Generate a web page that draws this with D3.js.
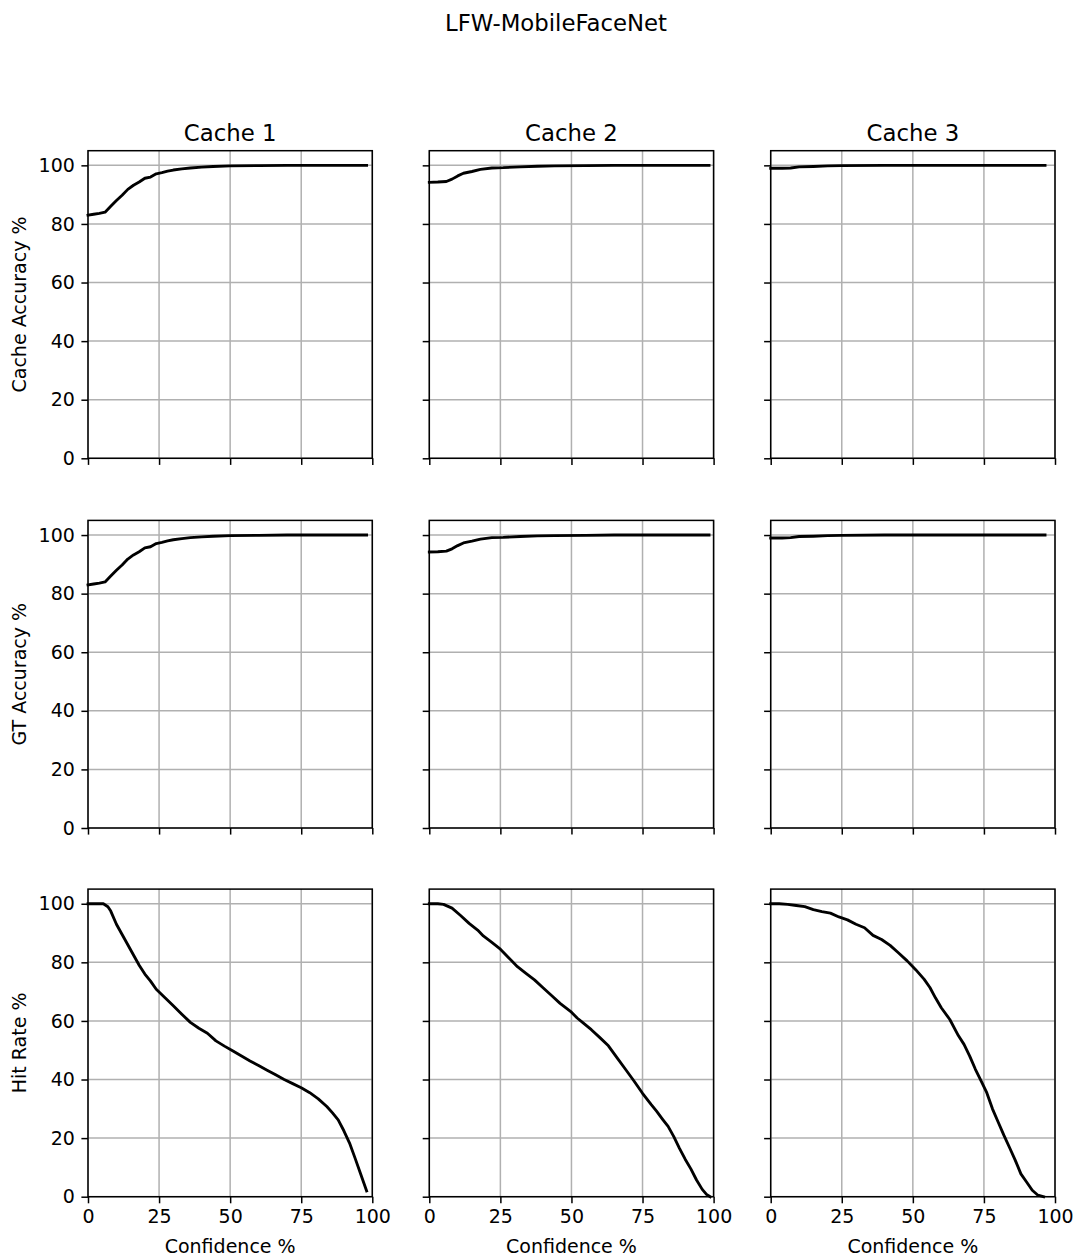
<!DOCTYPE html>
<html>
<head>
<meta charset="utf-8">
<script src="https://cdn.jsdelivr.net/npm/d3@7"></script>
<style>
  html, body { margin: 0; padding: 0; background: #fff; }
  svg { display: block; font-family: "DejaVu Sans", sans-serif; }
</style>
</head>
<body>
<svg id="fig" width="1075" height="1258"></svg>
<script>
// ---- data ----
const cacheNames = ["Cache 1", "Cache 2", "Cache 3"];
const rowLabels = ["Cache Accuracy %", "GT Accuracy %", "Hit Rate %"];
const xTicks = [0, 25, 50, 75, 100];
const yTicks = [0, 20, 40, 60, 80, 100];

// Cache 1
const accConf1 = [0, 2, 4, 6, 8, 10, 12, 14, 16, 18, 20, 22, 24, 26, 28, 30, 33, 36, 40, 44, 50, 60, 70, 80, 90, 98];
const cacheAcc1 = [83.0, 83.3, 83.6, 84.0, 86.0, 88.0, 89.8, 91.8, 93.2, 94.3, 95.6, 96.0, 97.1, 97.5, 98.0, 98.4, 98.8, 99.1, 99.4, 99.6, 99.8, 99.9, 100, 100, 100, 100];
const gtAcc1 = [83.0, 83.3, 83.6, 84.0, 86.0, 88.0, 89.8, 91.8, 93.2, 94.3, 95.6, 96.0, 97.1, 97.5, 98.0, 98.4, 98.8, 99.1, 99.4, 99.6, 99.8, 99.9, 100, 100, 100, 100];
const hitConf1 = [0, 3, 5.4, 7, 8, 10, 12, 14, 16, 18, 20, 22, 24, 27, 30, 33, 36, 39, 42, 45, 48, 51, 54, 57, 60, 63, 66, 69, 72, 75, 78, 81, 84, 86, 88, 90, 92, 94, 96, 98];
const hitRate1 = [100, 100, 100, 99, 97.5, 93, 89.5, 86, 82.5, 79, 76, 73.6, 70.8, 68, 65.2, 62.3, 59.5, 57.5, 55.8, 53.2, 51.4, 49.7, 48.0, 46.3, 44.8, 43.2, 41.6, 40.0, 38.6, 37.2, 35.5, 33.4, 30.8, 28.6, 26.2, 22.5, 18.3, 13, 7.5, 2];

// Cache 2
const accConf2 = [0, 3, 6, 8, 10, 12, 15, 18, 22, 26, 32, 38, 44, 55, 65, 80, 98.4];
const cacheAcc2 = [94.2, 94.3, 94.5, 95.3, 96.4, 97.3, 97.9, 98.6, 99.1, 99.2, 99.5, 99.7, 99.8, 99.9, 100, 100, 100];
const gtAcc2 = [94.2, 94.3, 94.5, 95.3, 96.4, 97.3, 97.9, 98.6, 99.1, 99.2, 99.5, 99.7, 99.8, 99.9, 100, 100, 100];
const hitConf2 = [0, 3, 5, 8, 11, 14, 17, 19, 22, 25, 28, 31, 34, 37, 40, 43, 46, 50, 52, 54, 57, 60, 63, 66, 69, 72, 75, 78, 80, 82, 84, 86, 88, 90, 92, 94, 96, 97.5, 98.8];
const hitRate2 = [100, 100, 99.8, 98.5, 96, 93.3, 91, 89, 86.8, 84.5, 81.5, 78.5, 76.2, 74, 71.3, 68.7, 66, 63, 61, 59.4, 57, 54.3, 51.5, 47.5, 43.5, 39.5, 35.3, 31.5, 29.1, 26.5, 24, 20.5, 16.5, 12.8, 9.5, 5.7, 2.5, 0.8, 0];

// Cache 3
const accConf3 = [0, 4, 7, 10, 15, 20, 25, 40, 60, 80, 96.5];
const cacheAcc3 = [99.0, 99.0, 99.1, 99.5, 99.6, 99.8, 99.9, 100, 100, 100, 100];
const gtAcc3 = [99.0, 99.0, 99.1, 99.5, 99.6, 99.8, 99.9, 100, 100, 100, 100];
const hitConf3 = [0, 3, 6, 9, 12, 15, 18, 21, 24, 27, 30, 33, 36, 39, 42, 45, 48, 51, 54, 56, 58, 60, 63, 66, 68, 70, 72, 74, 76, 78, 80, 82, 84, 86, 88, 90, 92, 94, 96];
const hitRate3 = [100, 100, 99.8, 99.4, 99, 98, 97.3, 96.8, 95.5, 94.5, 93, 91.8, 89.2, 87.8, 85.8, 83.2, 80.5, 77.5, 74.2, 71.4, 67.8, 64.5, 60.5, 55, 52, 48, 43.5, 39.5, 35.5, 30, 25.5, 21, 16.8, 12.5, 7.8, 5, 2.2, 0.5, 0];

// grid of panels: rows = metric, cols = cache
const panels = [
  [[accConf1, cacheAcc1], [accConf2, cacheAcc2], [accConf3, cacheAcc3]],
  [[accConf1, gtAcc1], [accConf2, gtAcc2], [accConf3, gtAcc3]],
  [[hitConf1, hitRate1], [hitConf2, hitRate2], [hitConf3, hitRate3]]
];

// ---- layout ----
const colLeft = [88, 429.3, 770.7];
const panelW = 284.3;
const rowBottom = [458.3, 828, 1196.7];
const panelH = 307.6;
const smallFont = 19;
const titleFont = 22.8;

const svg = d3.select("#fig");

// figure title
svg.append("text")
  .attr("x", 556).attr("y", 31)
  .attr("text-anchor", "middle")
  .attr("font-size", titleFont)
  .text("LFW-MobileFaceNet");

panels.forEach((row, r) => {
  row.forEach(([xs, ys], c) => {
    const x0 = colLeft[c];
    const y1 = rowBottom[r];
    const y0 = y1 - panelH;
    const x = d3.scaleLinear().domain([0, 100]).range([x0, x0 + panelW]);
    const y = d3.scaleLinear().domain([0, 105]).range([y1, y0]);

    const g = svg.append("g");

    // grid
    g.selectAll("line.vg").data(xTicks).join("line")
      .attr("x1", d => x(d)).attr("x2", d => x(d))
      .attr("y1", y0).attr("y2", y1)
      .attr("stroke", "#b0b0b0").attr("stroke-width", 1.5);
    g.selectAll("line.hg").data(yTicks).join("line")
      .attr("x1", x0).attr("x2", x0 + panelW)
      .attr("y1", d => y(d)).attr("y2", d => y(d))
      .attr("stroke", "#b0b0b0").attr("stroke-width", 1.5);

    // series line
    const pts = xs.map((v, i) => [v, ys[i]]);
    g.append("path")
      .datum(pts)
      .attr("fill", "none")
      .attr("stroke", "#000")
      .attr("stroke-width", 2.85)
      .attr("stroke-linejoin", "round")
      .attr("stroke-linecap", "square")
      .attr("d", d3.line().x(d => x(d[0])).y(d => y(d[1])));

    // axes
    const xAxis = d3.axisBottom(x).tickValues(xTicks).tickSize(6.6).tickPadding(6.6)
      .tickFormat(r === 2 ? d3.format("d") : () => "");
    const yAxis = d3.axisLeft(y).tickValues(yTicks).tickSize(6.6).tickPadding(6.6)
      .tickFormat(c === 0 ? d3.format("d") : () => "");

    const gx = g.append("g").attr("transform", `translate(0,${y1})`).call(xAxis);
    const gy = g.append("g").attr("transform", `translate(${x0},0)`).call(yAxis);
    [gx, gy].forEach(a => {
      a.select(".domain").remove();
      a.selectAll("line").attr("stroke", "#000").attr("stroke-width", 1.5);
      a.selectAll("text").attr("font-size", smallFont).attr("fill", "#000")
        .attr("font-family", "DejaVu Sans");
    });

    // frame
    g.append("rect")
      .attr("x", x0).attr("y", y0)
      .attr("width", panelW).attr("height", panelH)
      .attr("fill", "none").attr("stroke", "#000").attr("stroke-width", 1.5);

    if (r === 0) {
      g.append("text")
        .attr("x", x0 + panelW / 2).attr("y", y0 - 10)
        .attr("text-anchor", "middle")
        .attr("font-size", titleFont)
        .text(cacheNames[c]);
    }
    if (r === 2) {
      g.append("text")
        .attr("x", x0 + panelW / 2).attr("y", 1253)
        .attr("text-anchor", "middle")
        .attr("font-size", smallFont)
        .text("Confidence %");
    }
    if (c === 0) {
      g.append("text")
        .attr("transform", `translate(26,${(y0 + y1) / 2}) rotate(-90)`)
        .attr("text-anchor", "middle")
        .attr("font-size", smallFont)
        .text(rowLabels[r]);
    }
  });
});
</script>
</body>
</html>
